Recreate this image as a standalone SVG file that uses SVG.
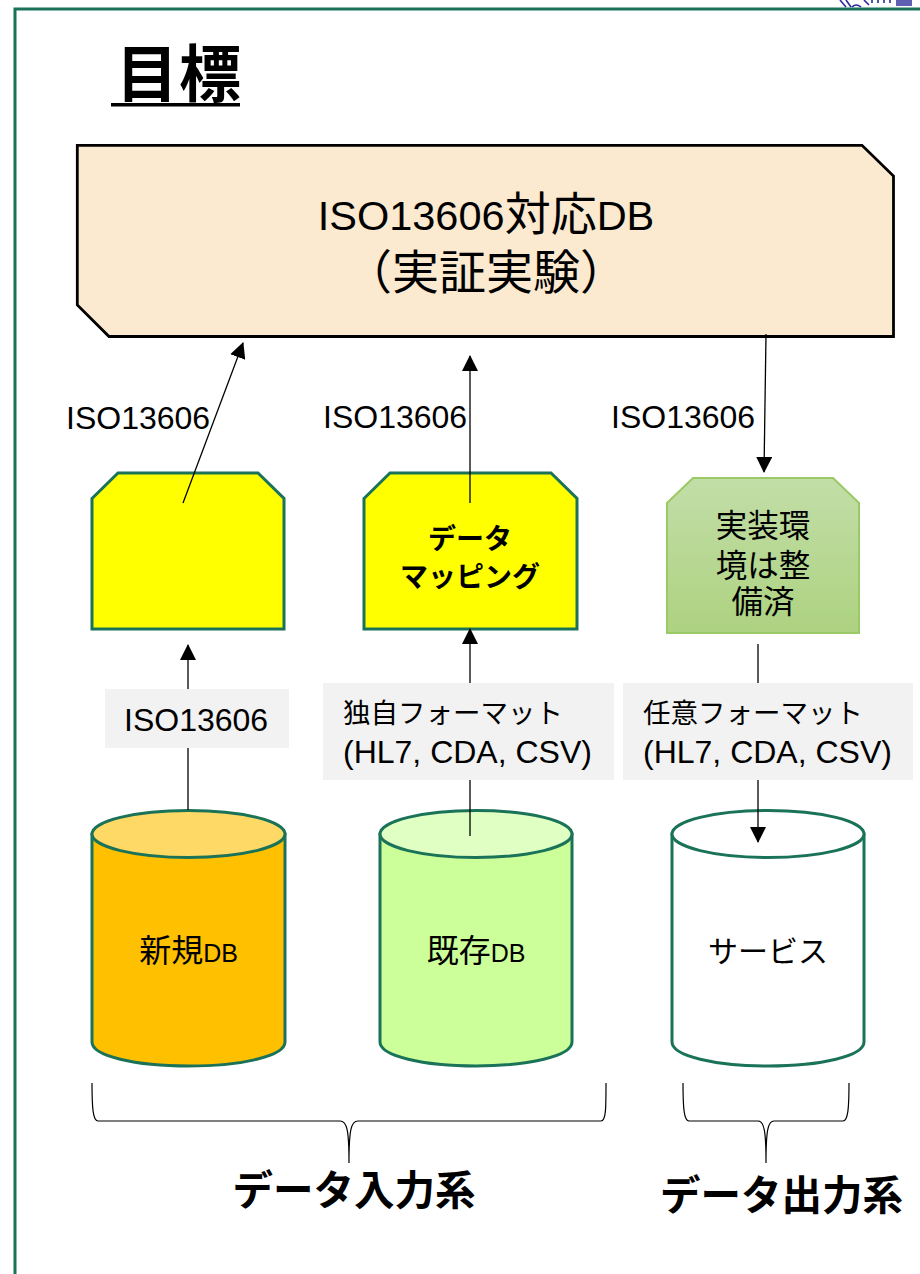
<svg xmlns="http://www.w3.org/2000/svg" width="920" height="1274" viewBox="0 0 920 1274">
<style>
text{font-family:"Liberation Sans","Noto Sans CJK JP",sans-serif;fill:#000}
.lbl{font-size:32px}
.jp{font-size:27.500px}
.mid{text-anchor:middle}
.cjkb{font-family:"Noto Sans CJK JP",sans-serif;font-weight:700}
.shape{stroke:#1a7358;stroke-width:3}
.conn{fill:none;stroke:#000;stroke-width:1.3}
.brace{fill:none;stroke:#000;stroke-width:1.2}
.band{fill:#f2f2f2}
</style>
<defs>
<marker id="arrow" markerUnits="userSpaceOnUse" markerWidth="16" markerHeight="16" refX="15" refY="8" orient="auto"><path d="M0 0L16 8L0 16Z" fill="#000"/></marker>
<linearGradient id="greenfill" x1="0" y1="0" x2="0" y2="1"><stop offset="0" stop-color="#c2dea8"/><stop offset="1" stop-color="#add280"/></linearGradient>
</defs>
<g id="frame"><path d="M15 1274V9H920" fill="none" stroke="#1a7358" stroke-width="3"/></g>
<g id="logo" fill="none" stroke="#2a2a9a" stroke-width="1.6"><path d="M840 0L846 7M846 0L851 7M852 7Q856 3 861 7M864 0L869 5M872 0V3M878 0V3M884 0V3M890 0V3"/><rect x="896" y="0" width="16" height="6" fill="#2a2a9a" stroke="none" opacity=".75"/></g>
<g id="title"><text class="cjkb" x="116" y="97" font-size="62" letter-spacing="1">目標</text><rect x="111" y="103" width="129" height="3.500" fill="#000"/></g>
<g id="iso-db"><path d="M77.300 145.300H862L893.500 176V336.500H109L77.300 305Z" fill="#fbe9d0" stroke="#000" stroke-width="2.800"/>
<text class="mid" x="486" y="230" font-size="41.500">ISO13606<tspan font-size="46">対応</tspan>DB</text><text class="mid" x="486" y="289" font-size="47">（実証実験）</text></g>
<g id="box-new"><path class="shape" d="M92 498.500L118 473H258L284 498.500V629H92Z" fill="#ff0"/></g>
<g id="box-map"><path class="shape" d="M364 498.500L390 473H551L577 498.500V629H364Z" fill="#ff0"/>
<text class="mid cjkb" x="470" y="549" font-size="28">データ</text><text class="mid cjkb" x="470" y="587" font-size="28">マッピング</text></g>
<g id="box-impl"><path d="M667 503L693 478H833L859 503V633H667Z" fill="url(#greenfill)" stroke="#9bc965" stroke-width="2"/>
<text class="mid" x="763" y="537" font-size="31.500">実装環</text><text class="mid" x="763" y="577" font-size="31.500">境は整</text><text class="mid" x="763" y="613" font-size="31.500">備済</text></g>
<g id="lbl-iso1"><text class="lbl" x="66" y="429">ISO13606</text></g>
<g id="lbl-iso2"><text class="lbl" x="323" y="428">ISO13606</text></g>
<g id="lbl-iso3"><text class="lbl" x="611" y="428">ISO13606</text></g>
<g id="lbl-new"><rect class="band" x="105" y="689" width="184" height="59"/><text class="lbl" x="124" y="731">ISO13606</text></g>
<g id="lbl-own"><rect class="band" x="323" y="683" width="291" height="97"/><text class="jp" x="343" y="723">独自フォーマット</text><text class="lbl" x="343" y="763">(HL7, CDA, CSV)</text></g>
<g id="lbl-any"><rect class="band" x="623" y="683" width="290" height="97"/><text class="jp" x="643" y="723">任意フォーマット</text><text class="lbl" x="643" y="763">(HL7, CDA, CSV)</text></g>
<g id="db-new"><path class="shape" d="M92 834V1042C92 1056 135 1066 188.500 1066S285 1056 285 1042V834Z" fill="#ffc000"/><ellipse class="shape" cx="188.500" cy="834" rx="96.500" ry="23.500" fill="#ffd966"/><text class="mid" x="188.500" y="962" font-size="32">新規<tspan font-size="25">DB</tspan></text></g>
<g id="db-old"><path class="shape" d="M380 834V1042C380 1056 423 1066 476 1066S572 1056 572 1042V834Z" fill="#ccff99"/><ellipse class="shape" cx="476" cy="834" rx="96" ry="23.500" fill="#e0ffc2"/><text class="mid" x="476" y="962" font-size="32">既存<tspan font-size="25">DB</tspan></text></g>
<g id="db-svc"><path class="shape" d="M672 834V1042C672 1056 715 1066 768 1066S864 1056 864 1042V834Z" fill="#fff"/><ellipse class="shape" cx="768" cy="834" rx="96" ry="23.500" fill="#fff"/><text class="mid" x="768" y="962" font-size="30">サービス</text></g>
<g id="connectors">
<path class="conn" d="M183 503L243 343" marker-end="url(#arrow)"/>
<path class="conn" d="M470 503V356" marker-end="url(#arrow)"/>
<path class="conn" d="M766 334L764 472" marker-end="url(#arrow)"/>
<path class="conn" d="M188 689V645" marker-end="url(#arrow)"/>
<path class="conn" d="M188 748V810"/>
<path class="conn" d="M470 683V629" marker-end="url(#arrow)"/>
<path class="conn" d="M470 780V836"/>
<path class="conn" d="M758 683V644"/>
<path class="conn" d="M758 780V842" marker-end="url(#arrow)"/>
</g>
<g id="brace-in"><path class="brace" d="M92 1083C92 1108 93 1121 98 1121H340C347 1121 349 1130 349 1163C349 1130 351 1121 358 1121H601C606 1121 606 1108 606 1083"/><text class="cjkb mid" x="354" y="1205" font-size="40.500">データ入力系</text></g>
<g id="brace-out"><path class="brace" d="M683 1083C683 1108 684 1121 689 1121H758C764 1121 766 1130 766 1163C766 1130 768 1121 774 1121H843C848 1121 849 1108 849 1083"/><text class="cjkb mid" x="781.500" y="1210" font-size="40.500">データ出力系</text></g>
</svg>
